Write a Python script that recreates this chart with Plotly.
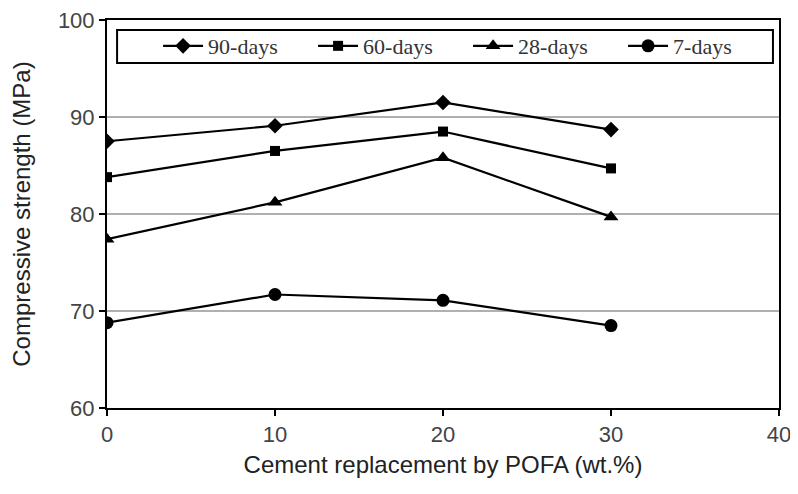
import plotly.graph_objects as go

replacement = [0, 10, 20, 30]
days90 = [87.5, 89.1, 91.5, 88.7]
days60 = [83.8, 86.5, 88.5, 84.7]
days28 = [77.4, 81.2, 85.8, 79.7]
days7 = [68.8, 71.7, 71.1, 68.5]

series = [
    ("90-days", days90, "diamond", 12),
    ("60-days", days60, "square", 10),
    ("28-days", days28, "triangle-up", 13),
    ("7-days", days7, "circle", 13),
]

fig = go.Figure()
for name, vals, sym, size in series:
    fig.add_trace(go.Scatter(
        x=replacement, y=vals, name=name, mode="lines+markers",
        line=dict(color="black", width=2.2),
        marker=dict(symbol=sym, size=size, color="black"),
    ))

# page body has an 8px offset, margins compensate for it
fig.update_layout(
    width=798, height=494,
    margin=dict(l=99, r=27, t=12, b=94),
    paper_bgcolor="white", plot_bgcolor="white",
    showlegend=True,
    legend=dict(
        orientation="h", x=0.076, y=0.987, xanchor="left", yanchor="top",
        bgcolor="rgba(0,0,0,0)", borderwidth=0,
        font=dict(family="Liberation Serif", size=22, color="#333"),
        entrywidth=100, entrywidthmode="pixels", itemwidth=40,
        tracegroupgap=0,
    ),
    shapes=[dict(
        type="rect", xref="paper", yref="paper",
        x0=0.015, x1=0.991, y0=0.889, y1=0.974,
        line=dict(color="black", width=2), fillcolor="rgba(0,0,0,0)", layer="above",
    )],
)

fig.update_xaxes(
    range=[0, 40], tickvals=[0, 10, 20, 30, 40],
    showline=True, linecolor="black", linewidth=2, mirror=True,
    ticks="outside", ticklen=6, tickwidth=2, tickcolor="black",
    showgrid=False, zeroline=False, automargin=False, ticklabeloverflow="allow",
    tickfont=dict(family="Liberation Sans", size=22, color="#444"),
    title=dict(text="Cement replacement by POFA (wt.%)", standoff=10,
               font=dict(family="Liberation Sans", size=24, color="#222")),
)
fig.update_yaxes(
    range=[60, 100], tickvals=[60, 70, 80, 90, 100],
    showline=True, linecolor="black", linewidth=2, mirror=True,
    ticks="outside", ticklen=6, tickwidth=2, tickcolor="black",
    showgrid=True, gridcolor="#b0b0b0", gridwidth=2, zeroline=False, automargin=False,
    ticklabeloverflow="allow",
    tickfont=dict(family="Liberation Sans", size=22, color="#444"),
    title=dict(text="Compressive strength (MPa)", standoff=25,
               font=dict(family="Liberation Sans", size=24, color="#222")),
)

fig.write_html("out.html")
